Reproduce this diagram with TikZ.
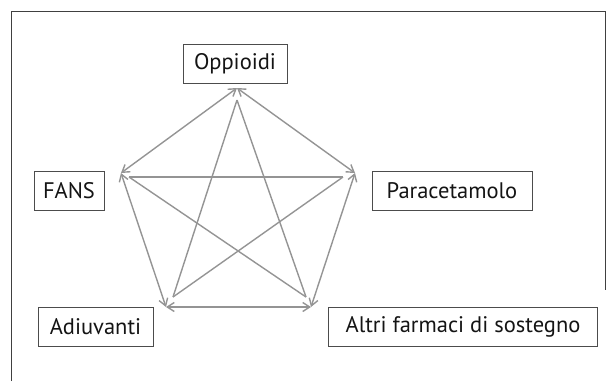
\documentclass[tikz,border=0pt]{standalone}
\usepackage{fontspec}
\setmainfont{PT Sans}
\usetikzlibrary{arrows.meta}
\begin{document}
\begin{tikzpicture}[x=1pt,y=-1pt,
 box/.style={draw=black!70,line width=1pt,minimum height=39pt,inner sep=0pt,font=\fontsize{22.5}{26}\selectfont,text=black!92},
 edge/.style={draw=black!42,line width=1.4pt,{Straight Barb[length=7pt,width=9pt]}-{Straight Barb[length=7pt,width=9pt]}},
 diag/.style={draw=black!42,line width=1.4pt},
 frame/.style={draw=black!75,line width=1pt}]
\useasboundingbox (0,0) rectangle (611,381);
\coordinate (fbl) at (11,381);
\coordinate (ftl) at (11,11);
\coordinate (ftr) at (605,11);
\coordinate (fbr) at (605,290);
\draw[frame] (fbl) -- (ftl) -- (ftr) -- (fbr);
\node[box,minimum width=104pt] (op) at (235,64) {Oppioidi};
\node[box,minimum width=70pt] (fa) at (69,191) {FANS};
\node[box,minimum width=160pt] (pa) at (452,191) {Paracetamolo};
\node[box,minimum width=115pt] (ad) at (95.5,326.5) {Adiuvanti};
\node[box,minimum width=269pt] (al) at (463,326.5) {Altri farmaci di sostegno};
% outer vertices
\coordinate (o1) at (237,88);
\coordinate (f1) at (121,173);
\coordinate (p1) at (355,173);
\coordinate (a1) at (166,307);
\coordinate (s1) at (311,307);
% inner vertices
\coordinate (o2) at (237,100);
\coordinate (f2) at (129,177);
\coordinate (p2) at (343,177);
\coordinate (a2) at (173,297);
\coordinate (s2) at (306,297);
\draw[edge] (o1) -- (f1);
\draw[edge] (o1) -- (p1);
\draw[edge] (f1) -- (a1);
\draw[edge] (p1) -- (s1);
\draw[edge] (a1) -- (s1);
\draw[diag] (o2) -- (a2);
\draw[diag] (o2) -- (s2);
\draw[diag] (f2) -- (p2);
\draw[diag] (f2) -- (s2);
\draw[diag] (a2) -- (p2);
\end{tikzpicture}
\end{document}
